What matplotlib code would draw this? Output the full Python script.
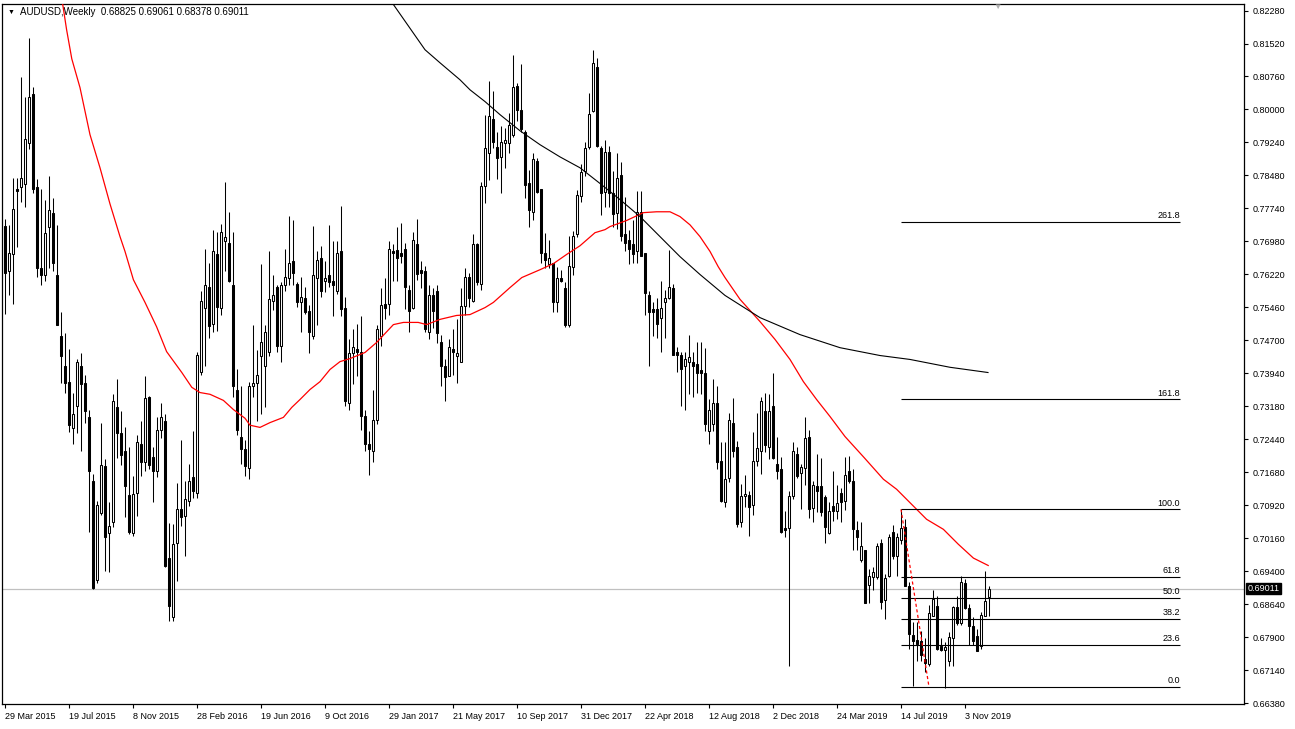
import matplotlib.pyplot as plt
import numpy as np
from matplotlib.transforms import blended_transform_factory

plt.rcParams["font.family"] = ["Liberation Sans", "DejaVu Sans"]

# weekly candles, bar 0 = week of 29 Mar 2015
opens = [.7734, .7631, .7668, .7819, .7824, .7830, .7925, .8037, .7824, .7636,
         .7620, .7730, .7764, .7620, .7480, .7411, .7376, .7269, .7321, .7411,
         .7372, .7294, .7147, .6920, .7074, .7182, .7028, .7053, .7317, .7257,
         .7216, .7115, .7028, .7120, .7232, .7191, .7340, .7204, .7170, .7266,
         .7285, .6971, .6835, .7005, .7083, .7067, .7101, .7156, .7120, .7399,
         .7544, .7594, .7509, .7670, .7544, .7700, .7695, .7597, .7356, .7248,
         .7221, .7177, .7365, .7374, .7434, .7411, .7445, .7562, .7594, .7457,
         .7599, .7615, .7654, .7601, .7558, .7567, .7539, .7480, .7615, .7661,
         .7606, .7620, .7608, .7585, .7677, .7544, .7328, .7441, .7450, .7445,
         .7298, .7232, .7216, .7289, .7480, .7555, .7555, .7675, .7679, .7672,
         .7681, .7587, .7544, .7691, .7633, .7631, .7491, .7574, .7585, .7468,
         .7413, .7390, .7452, .7436, .7422, .7550, .7617, .7562, .7691, .7601,
         .7826, .7902, .7980, .7915, .7892, .7925, .7925, .7943, .8055, .8000,
         .7950, .7833, .7766, .7883, .7819, .7672, .7647, .7649, .7558, .7615,
         .7592, .7507, .7640, .7714, .7803, .7860, .7915, .7998, .8099, .7913,
         .7812, .7904, .7810, .7764, .7850, .7716, .7702, .7691, .7677, .7766,
         .7672, .7576, .7542, .7542, .7521, .7558, .7567, .7590, .7443, .7438,
         .7411, .7420, .7420, .7416, .7402, .7396, .7262, .7278, .7326, .7193,
         .7099, .7154, .7280, .7227, .7053, .7113, .7115, .7092, .7193, .7216,
         .7308, .7225, .7320, .7186, .7175, .7039, .7039, .7113, .7211, .7167,
         .7177, .7248, .7085, .7136, .7136, .7111, .7028, .7090, .7078, .7120,
         .7101, .7170, .7147, .7035, .6966, .6989, .6909, .6927, .6927, .7005,
         .6874, .6929, .7032, .6975, .7012, .7042, .6906, .6794, .6782, .6780,
         .6739, .6727, .6838, .6860, .6769, .6760, .6734, .6787, .6858, .6821,
         .6913, .6856, .6815, .6792, .6769, .6838, .68825]
highs = [.7750, .7736, .7844, .7844, .8076, .8030, .8165, .8053, .7842, .7819,
         .7794, .7847, .7798, .7736, .7535, .7487, .7450, .7349, .7429, .7441,
         .7392, .7312, .7163, .7101, .7280, .7198, .7099, .7347, .7383, .7308,
         .7271, .7225, .7159, .7253, .7285, .7388, .7344, .7225, .7294, .7328,
         .7301, .7051, .7049, .7143, .7243, .7147, .7188, .7262, .7445, .7585,
         .7681, .7649, .7725, .7720, .7739, .7835, .7766, .7720, .7404, .7367,
         .7243, .7376, .7505, .7448, .7645, .7505, .7677, .7620, .7597, .7604,
         .7681, .7757, .7746, .7604, .7617, .7594, .7551, .7734, .7677, .7688,
         .7652, .7736, .7698, .7698, .7780, .7571, .7475, .7498, .7509, .7526,
         .7312, .7262, .7358, .7507, .7590, .7613, .7698, .7691, .7732, .7741,
         .7695, .7597, .7720, .7750, .7652, .7642, .7599, .7592, .7599, .7484,
         .7427, .7473, .7496, .7519, .7590, .7638, .7626, .7716, .7695, .7835,
         .7989, .8067, .8044, .7950, .7964, .7959, .7993, .8126, .8062, .8106,
         .7954, .7863, .7902, .7890, .7819, .7718, .7702, .7649, .7640, .7633,
         .7604, .7711, .7723, .7817, .7876, .7927, .8039, .8138, .8120, .7918,
         .7931, .7918, .7860, .7900, .7880, .7800, .7725, .7748, .7813, .7813,
         .7672, .7583, .7558, .7567, .7608, .7587, .7679, .7601, .7455, .7445,
         .7445, .7484, .7443, .7466, .7466, .7454, .7337, .7381, .7366, .7237,
         .7237, .7305, .7338, .7239, .7140, .7161, .7126, .7260, .7303, .7340,
         .7351, .7347, .7395, .7248, .7204, .7078, .7126, .7237, .7227, .7186,
         .7296, .7266, .7149, .7209, .7200, .7115, .7099, .7170, .7138, .7133,
         .7204, .7206, .7175, .7055, .7053, .6989, .6947, .6950, .7005, .7014,
         .6934, .7026, .7046, .7028, .7083, .7060, .6915, .6824, .6824, .6803,
         .6787, .6863, .6897, .6883, .6787, .6778, .6801, .6860, .6883, .6929,
         .6922, .6865, .6835, .6808, .6847, .6941, .69061]
lows = [.7532, .7576, .7555, .7684, .7789, .7778, .7909, .7810, .7617, .7597,
        .7606, .7636, .7629, .7505, .7372, .7349, .7260, .7234, .7257, .7216,
        .7282, .7032, .6899, .6913, .7071, .6941, .6938, .7042, .7200, .7184,
        .7065, .7026, .7021, .7067, .7159, .7170, .7175, .7099, .7156, .7246,
        .6950, .6826, .6826, .6918, .7044, .6975, .7090, .7110, .7110, .7392,
        .7413, .7477, .7491, .7493, .7528, .7631, .7604, .7340, .7253, .7186,
        .7159, .7152, .7340, .7285, .7301, .7317, .7434, .7540, .7443, .7420,
        .7583, .7599, .7599, .7548, .7491, .7532, .7441, .7475, .7505, .7571,
        .7581, .7594, .7526, .7578, .7526, .7319, .7310, .7370, .7388, .7266,
        .7216, .7161, .7191, .7278, .7457, .7519, .7528, .7606, .7606, .7649,
        .7542, .7491, .7542, .7610, .7590, .7491, .7473, .7500, .7464, .7367,
        .7331, .7388, .7392, .7372, .7420, .7528, .7548, .7560, .7599, .7587,
        .7787, .7840, .7913, .7842, .7810, .7867, .7902, .7938, .7975, .7950,
        .7798, .7732, .7746, .7808, .7649, .7636, .7636, .7535, .7537, .7604,
        .7502, .7502, .7622, .7709, .7789, .7847, .7911, .7996, .7915, .7759,
        .7778, .7776, .7732, .7726, .7700, .7676, .7645, .7649, .7649, .7664,
        .7530, .7411, .7480, .7477, .7445, .7477, .7565, .7438, .7399, .7319,
        .7312, .7347, .7340, .7351, .7347, .7262, .7234, .7262, .7175, .7099,
        .7088, .7145, .7202, .7042, .7042, .7088, .7021, .7071, .7182, .7163,
        .7214, .7198, .7198, .7152, .7028, .7019, .6723, .7106, .7154, .7083,
        .7138, .7063, .7053, .7076, .7067, .7005, .7026, .7055, .7060, .7053,
        .7081, .7143, .6989, .6989, .6961, .6867, .6867, .6897, .6922, .6854,
        .6831, .6927, .6968, .6929, .7003, .6906, .6762, .6677, .6734, .6734,
        .6709, .6723, .6838, .6760, .6757, .6672, .6723, .6723, .6817, .6817,
        .6854, .6771, .6771, .6757, .6762, .6838, .68378]
closes = [.7626, .7672, .7773, .7814, .7844, .7934, .8030, .7819, .7636, .7620,
          .7718, .7769, .7649, .7507, .7436, .7372, .7276, .7301, .7420, .7370,
          .7308, .7172, .6902, .7092, .7184, .7019, .7044, .7331, .7257, .7207,
          .7136, .7032, .7117, .7237, .7191, .7338, .7184, .7170, .7266, .7296,
          .6952, .6860, .7003, .7083, .7065, .7106, .7147, .7124, .7438, .7562,
          .7599, .7503, .7675, .7548, .7720, .7709, .7606, .7365, .7264, .7221,
          .7182, .7367, .7374, .7392, .7466, .7491, .7565, .7574, .7459, .7599,
          .7617, .7649, .7626, .7558, .7571, .7535, .7489, .7620, .7656, .7585,
          .7613, .7604, .7597, .7672, .7542, .7331, .7441, .7455, .7445, .7298,
          .7232, .7221, .7289, .7498, .7553, .7544, .7681, .7672, .7661, .7665,
          .7594, .7539, .7702, .7624, .7626, .7496, .7576, .7539, .7487, .7413,
          .7386, .7455, .7443, .7441, .7550, .7617, .7567, .7691, .7604, .7826,
          .7913, .7986, .7927, .7890, .7927, .7931, .7966, .8053, .8000, .7957,
          .7828, .7769, .7888, .7812, .7672, .7656, .7659, .7558, .7615, .7606,
          .7505, .7642, .7711, .7805, .7858, .7913, .7991, .8108, .7918, .7808,
          .7904, .7810, .7760, .7843, .7711, .7695, .7681, .7670, .7765, .7665,
          .7580, .7535, .7535, .7509, .7546, .7567, .7594, .7438, .7438, .7406,
          .7427, .7432, .7413, .7397, .7397, .7278, .7312, .7326, .7192, .7101,
          .7152, .7287, .7216, .7049, .7113, .7117, .7088, .7193, .7223, .7331,
          .7230, .7308, .7200, .7172, .7030, .7035, .7113, .7216, .7159, .7179,
          .7246, .7083, .7138, .7124, .7076, .7042, .7078, .7078, .7097, .7099,
          .7161, .7147, .7037, .7019, .6998, .6867, .6929, .6938, .6998, .6870,
          .6925, .7019, .6975, .7019, .7039, .6906, .6796, .6780, .6773, .6748,
          .6730, .6845, .6877, .6762, .6760, .6766, .6789, .6858, .6821, .6915,
          .6856, .6815, .6780, .6757, .6840, .6872, .69011]

# moving averages (bar position, price)
red_ma_x = [14.25, 15.4, 16.7, 18.75, 21.25, 23.75, 26.25, 28.75, 30, 32.1,
            35, 37.9, 40.4, 44.2, 46.7, 48.75, 51.25, 54.6, 57.1, 60,
            61.25, 63.75, 66.25, 69.6, 71.7, 73.75, 76.25, 78.75, 81.25, 83.75,
            86.25, 90, 92.9, 97.1, 99.6, 103.3, 105.4, 108.75, 112.9, 116.25,
            120, 122.1, 126.25, 129.2, 133.75, 137.1, 140.4, 143.75, 147.5, 150,
            151.25, 155.4, 159.6, 162.9, 166.25, 168.75, 171.25, 173.75, 176.25, 178.3,
            180, 183.75, 188.75, 192.5, 196.25, 199.6, 202.9, 206.25, 210, 214.75,
            219.6, 222.9, 226.7, 230.4, 234.6, 238.3, 242.1, 245.8]
red_ma_y = [.8253, .8184, .8117, .8051, .7943, .7867, .7784, .7709, .7675, .7610,
            .7558, .7502, .7445, .7397, .7363, .7351, .7347, .7333, .7312, .7292,
            .7276, .7271, .7282, .7294, .7317, .7335, .7358, .7376, .7404, .7422,
            .7429, .7443, .7466, .7507, .7512, .7512, .7507, .7519, .7528, .7530,
            .7546, .7558, .7592, .7615, .7633, .7647, .7668, .7688, .7718, .7725,
            .7732, .7746, .7764, .7766, .7766, .7755, .7736, .7709, .7675, .7640,
            .7615, .7565, .7514, .7473, .7427, .7376, .7335, .7296, .7250, .7202,
            .7152, .7129, .7094, .7060, .7037, .7003, .6971, .6954]
black_ma_x = [96.25, 105, 108.75, 113.75, 116.25, 120, 123.75, 128.75, 133.75, 138.75,
              143.75, 148.75, 153.75, 158.75, 163.75, 168.75, 173.75, 180, 188.75, 198.75,
              208.75, 218.75, 226.25, 236.25, 245.75]
black_ma_y = [.8253, .8138, .8108, .8069, .8046, .8019, .7989, .7952, .7920, .7892,
              .7867, .7831, .7794, .7755, .7709, .7663, .7622, .7574, .7523, .7484,
              .7454, .7436, .7427, .7409, .7397]

date_labels = ["29 Mar 2015", "19 Jul 2015", "8 Nov 2015", "28 Feb 2016", "19 Jun 2016",
               "9 Oct 2016", "29 Jan 2017", "21 May 2017", "10 Sep 2017", "31 Dec 2017",
               "22 Apr 2018", "12 Aug 2018", "2 Dec 2018", "24 Mar 2019", "14 Jul 2019",
               "3 Nov 2019"]
price_labels = ["0.66380", "0.67140", "0.67900", "0.68640", "0.69400", "0.70160",
                "0.70920", "0.71680", "0.72440", "0.73180", "0.73940", "0.74700",
                "0.75460", "0.76220", "0.76980", "0.77740", "0.78480", "0.79240",
                "0.80000", "0.80760", "0.81520", "0.82280"]

fib_levels = [0.0, 23.6, 38.2, 50.0, 61.8, 100.0, 161.8, 261.8]
fib_low = 0.6675
fib_high = 0.7083
fib_from_bar = 224
fib_to_bar = 231
last_price = 0.69011

W, H = 1295, 729
fig = plt.figure(figsize=(W / 100, H / 100), dpi=100)
ax = fig.add_axes([2 / W, 1 - 704 / H, 1242 / W, 700 / H])

x = np.arange(len(closes))
o = np.array(opens)
c = np.array(closes)
up = c >= o

# wicks then bodies
ax.vlines(x, lows, highs, color="black", linewidth=0.75, zorder=2)
ax.bar(x, np.abs(c - o), bottom=np.minimum(o, c), width=0.55,
       color=np.where(up, "white", "black"), edgecolor="black",
       linewidth=0.75, zorder=3)

ax.plot(red_ma_x, red_ma_y, color="red", linewidth=0.9, zorder=4)
ax.plot(black_ma_x, black_ma_y, color="black", linewidth=0.8, zorder=4)

# current price line
ax.axhline(last_price, color="#c0c0c0", linewidth=0.9, zorder=1)

# fibonacci retracement
fib_right = 293.75
span = fib_high - fib_low
for lv in fib_levels:
    yv = fib_low + span * lv / 100
    ax.hlines(yv, fib_from_bar, fib_right, color="black", linewidth=0.8, zorder=4)
    ax.text(fib_right, yv + 0.0004, "%.1f" % lv, ha="right", va="bottom", fontsize=6.5)
ax.plot([fib_from_bar, fib_to_bar], [fib_high, fib_low], color="red",
        linewidth=0.9, linestyle=(0, (2.5, 2)), zorder=5)

ax.set_xlim(-0.75, 309.75)
ax.set_ylim(0.6636, 0.8243)

ax.yaxis.tick_right()
ax.set_yticks(np.linspace(0.6638, 0.8228, len(price_labels)))
ax.set_yticklabels(price_labels)
ax.set_xticks(np.arange(len(date_labels)) * 16)
ax.set_xticklabels(date_labels, ha="left")
ax.tick_params(axis="y", direction="out", length=3, width=0.8, labelsize=6.5, pad=3)
ax.tick_params(axis="x", direction="out", length=3, width=0.8, labelsize=6.5, pad=3)
for s in ax.spines.values():
    s.set_linewidth(0.9)

# price tag on the axis
tr = blended_transform_factory(ax.transAxes, ax.transData)
ax.text(1.003, last_price, "0.69011", transform=tr, ha="left", va="center",
        color="white", fontsize=6.5,
        bbox=dict(boxstyle="square,pad=0.15", fc="black", ec="black"))

# header
fig.text(8 / W, 1 - 12 / H, "\u25bc", fontsize=5, va="center")
fig.text(20 / W, 1 - 12 / H, "AUDUSD,Weekly  0.68825 0.69061 0.68378 0.69011",
         fontsize=7, va="center")
fig.text(997 / W, 1 - 7 / H, "\u25bc", fontsize=6, color="#b0b0b0",
         ha="center", va="center")

fig.savefig("out.png", dpi=100)
